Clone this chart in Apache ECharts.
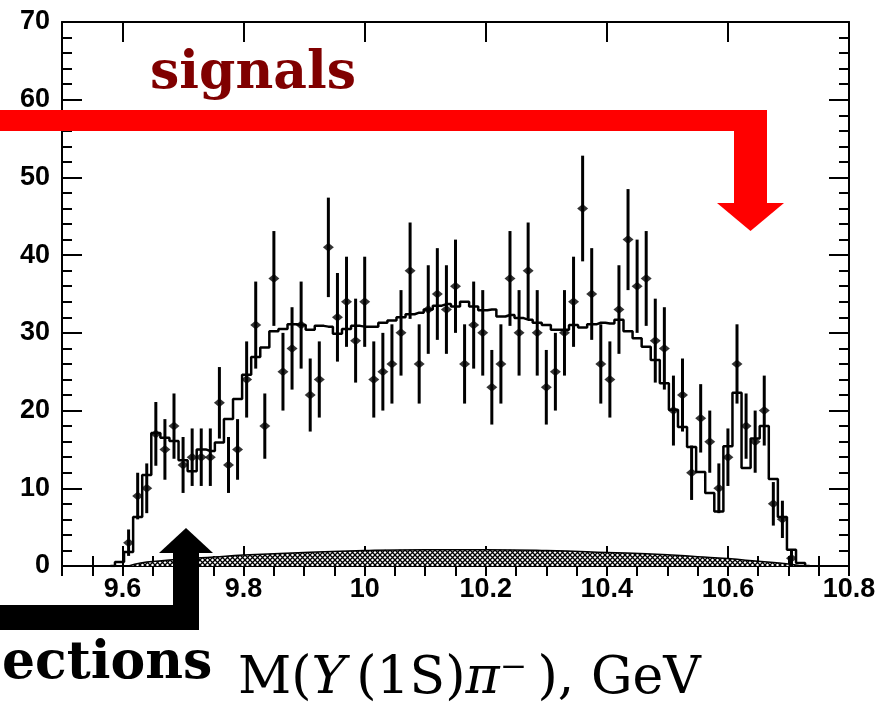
<!DOCTYPE html>
<html><head><meta charset="utf-8">
<script src="https://cdn.jsdelivr.net/npm/echarts@6/dist/echarts.min.js"></script>
<style>html,body{margin:0;padding:0;background:#fff}#c{width:883px;height:705px}</style>
</head><body><div id="c"></div>
<script>
// Bin centres, GeV
const massBins = [
  9.610, 9.625, 9.640, 9.655, 9.670, 9.685, 9.700, 9.715, 9.730, 9.745,
  9.760, 9.775, 9.790, 9.805, 9.820, 9.835, 9.850, 9.865, 9.880, 9.895,
  9.910, 9.925, 9.940, 9.955, 9.970, 9.985, 10.000, 10.015, 10.030, 10.045,
  10.060, 10.075, 10.090, 10.105, 10.120, 10.135, 10.150, 10.165, 10.180, 10.195,
  10.210, 10.225, 10.240, 10.255, 10.270, 10.285, 10.300, 10.315, 10.330, 10.345,
  10.360, 10.375, 10.390, 10.405, 10.420, 10.435, 10.450, 10.465, 10.480, 10.495,
  10.510, 10.525, 10.540, 10.555, 10.570, 10.585, 10.600, 10.615, 10.630, 10.645,
  10.660, 10.675, 10.690, 10.705
];
// Data points (events per bin)
const counts = [
  3, 9, 10, 17, 15, 18, 13, 14, 14, 14,
  21, 13, 15, 24, 31, 18, 37, 25, 28, 31,
  22, 24, 41, 32, 34, 29, 34, 24, 25, 26,
  30, 38, 26, 33, 35, 33, 36, 26, 31, 30,
  23, 26, 37, 30, 38, 30, 23, 25, 30, 34,
  46, 35, 26, 24, 33, 42, 36, 37, 29, 28,
  20, 22, 12, 19, 16, 10, 14, 26, 18, 16,
  20, 8, 6, 1
];
// Error bar half-lengths
const countErrors = [
  1.7, 3.0, 3.2, 4.1, 3.9, 4.2, 3.6, 3.7, 3.7, 3.7,
  4.6, 3.6, 3.9, 4.9, 5.6, 4.2, 6.1, 5.0, 5.3, 5.6,
  4.7, 4.9, 6.4, 5.7, 5.8, 5.4, 5.8, 4.9, 5.0, 5.1,
  5.5, 6.2, 5.1, 5.7, 5.9, 5.7, 6.0, 5.1, 5.6, 5.5,
  4.8, 5.1, 6.1, 5.5, 6.2, 5.5, 4.8, 5.0, 5.5, 5.8,
  6.8, 5.9, 5.1, 4.9, 5.7, 6.5, 6.0, 6.1, 5.4, 5.3,
  4.5, 4.7, 3.5, 4.4, 4.0, 3.2, 3.7, 5.1, 4.2, 4.0,
  4.5, 2.8, 2.4, 1.0
];
// Fit histogram (step line)
const fitMass = [
  9.580, 9.595,
  9.610, 9.625, 9.640, 9.655, 9.670, 9.685, 9.700, 9.715, 9.730, 9.745,
  9.760, 9.775, 9.790, 9.805, 9.820, 9.835, 9.850, 9.865, 9.880, 9.895,
  9.910, 9.925, 9.940, 9.955, 9.970, 9.985, 10.000, 10.015, 10.030, 10.045,
  10.060, 10.075, 10.090, 10.105, 10.120, 10.135, 10.150, 10.165, 10.180, 10.195,
  10.210, 10.225, 10.240, 10.255, 10.270, 10.285, 10.300, 10.315, 10.330, 10.345,
  10.360, 10.375, 10.390, 10.405, 10.420, 10.435, 10.450, 10.465, 10.480, 10.495,
  10.510, 10.525, 10.540, 10.555, 10.570, 10.585, 10.600, 10.615, 10.630, 10.645,
  10.660, 10.675, 10.690, 10.705,
  10.720, 10.735
];
const fitValues = [
  0, 0.5,
  1.8, 6.3, 11.7, 17.1, 16.5, 16.1, 13.6, 12.2, 15.0, 14.8,
  15.9, 18.9, 21.5, 24.6, 26.9, 28.1, 30.2, 30.5, 31.1, 31.0,
  30.4, 30.9, 30.8, 29.9, 30.5, 30.9, 30.8, 30.8, 31.3, 31.6,
  32.0, 32.4, 32.6, 33.0, 33.5, 33.7, 33.4, 34.0, 33.4, 32.9,
  33.0, 32.1, 32.3, 31.9, 31.7, 31.3, 31.0, 30.4, 30.4, 31.0,
  30.7, 31.1, 31.3, 31.2, 31.7, 30.2, 29.3, 28.2, 26.5, 23.5,
  20.1, 17.9, 15.3, 12.1, 9.4, 7.0, 15.4, 22.3, 12.6, 16.4,
  18.0, 11.2, 6.3, 2.1,
  0.4, 0
];
// Background (hatched)
const bgMass = [9.61, 9.63, 9.66, 9.70, 9.75, 9.80, 9.90, 10.00, 10.10, 10.20, 10.30, 10.40, 10.50, 10.55, 10.60, 10.65, 10.70, 10.72];
const bgValues = [0, 0.4, 0.65, 0.9, 1.15, 1.4, 1.75, 2.0, 2.1, 2.1, 2.0, 1.75, 1.45, 1.2, 0.95, 0.6, 0.25, 0];
// Axis
const xTickLabels = [9.6, 9.8, 10, 10.2, 10.4, 10.6, 10.8];
const xMin = 9.5, xMax = 10.8, yMin = 0, yMax = 70;

function hatchCanvas() {
  const n = 5;
  const c = document.createElement('canvas');
  c.width = n; c.height = n;
  const g = c.getContext('2d');
  g.fillStyle = '#fff'; g.fillRect(0, 0, n, n);
  g.strokeStyle = '#000'; g.lineWidth = 1.3;
  g.beginPath();
  g.moveTo(-1, -1); g.lineTo(n + 1, n + 1);
  g.moveTo(n + 1, -1); g.lineTo(-1, n + 1);
  g.stroke();
  return c;
}

const labelFont = {fontFamily: 'Liberation Sans', fontWeight: 'bold', fontSize: 27, color: '#000'};
const black = '#000';

function xMajor(position, showLabel) {
  return {
    type: 'value', position: position, min: xMin, max: xMax,
    axisLine: {show: true, onZero: false, lineStyle: {color: black, width: 2}},
    axisTick: {show: true, inside: true, length: 20, customValues: xTickLabels, lineStyle: {color: black, width: 2}},
    axisLabel: Object.assign({show: showLabel, customValues: xTickLabels, margin: 10,
      formatter: v => String(+(+v).toFixed(1))}, labelFont),
    splitLine: {show: false}
  };
}
function xMinor(position) {
  return {
    type: 'value', position: position, min: xMin, max: xMax, interval: 0.05,
    axisLine: {show: false},
    axisTick: {show: true, inside: true, length: 10, lineStyle: {color: black, width: 2}},
    axisLabel: {show: false},
    splitLine: {show: false}
  };
}
function yAx(position, showLabel) {
  return {
    type: 'value', position: position, min: yMin, max: yMax, interval: 10,
    axisLine: {show: true, onZero: false, lineStyle: {color: black, width: 2}},
    axisTick: {show: true, inside: true, length: 20, lineStyle: {color: black, width: 2}},
    minorTick: {show: true, splitNumber: 5, length: 10, lineStyle: {color: black, width: 2}},
    axisLabel: Object.assign({show: showLabel, margin: 12}, labelFont),
    splitLine: {show: false}
  };
}

const chart = echarts.init(document.getElementById('c'), null, {renderer: 'canvas'});
chart.setOption({
  animation: false,
  backgroundColor: '#fff',
  grid: {left: 62, right: 34, top: 22, bottom: 139, containLabel: false},
  xAxis: [xMajor('bottom', true), xMinor('bottom'), xMajor('top', false), xMinor('top')],
  yAxis: [yAx('left', true), yAx('right', false)],
  series: [
    {
      type: 'line', xAxisIndex: 0, yAxisIndex: 0, smooth: true, symbol: 'none', z: 1,
      data: bgMass.map((m, i) => [m, bgValues[i]]),
      lineStyle: {color: black, width: 1.5},
      areaStyle: {color: {image: hatchCanvas(), repeat: 'repeat'}, opacity: 1}
    },
    {
      type: 'line', xAxisIndex: 0, yAxisIndex: 0, step: 'middle', symbol: 'none', z: 3,
      data: fitMass.map((m, i) => [m, fitValues[i]]),
      lineStyle: {color: black, width: 2.5}
    },
    {
      type: 'custom', xAxisIndex: 0, yAxisIndex: 0, z: 4,
      data: massBins.map((m, i) => [m, counts[i], countErrors[i]]),
      renderItem: function (params, api) {
        const x = api.value(0), v = api.value(1), e = api.value(2);
        const p1 = api.coord([x, Math.max(0, v - e)]);
        const p2 = api.coord([x, v + e]);
        return {type: 'line', shape: {x1: p1[0], y1: p1[1], x2: p2[0], y2: p2[1]},
          style: {stroke: black, lineWidth: 3}};
      }
    },
    {
      type: 'scatter', xAxisIndex: 0, yAxisIndex: 0, z: 5,
      data: massBins.map((m, i) => [m, counts[i]]),
      symbol: 'diamond', symbolSize: [11, 9],
      itemStyle: {color: black}
    }
  ],
  graphic: [
    {type: 'rect', z: 100, shape: {x: 0, y: 110, width: 767, height: 21}, style: {fill: '#ff0000'}},
    {type: 'rect', z: 100, shape: {x: 734, y: 110, width: 33, height: 94}, style: {fill: '#ff0000'}},
    {type: 'polygon', z: 100, shape: {points: [[717, 203], [784, 203], [750.5, 231]]}, style: {fill: '#ff0000'}},
    {type: 'text', z: 100, x: 150, y: 74, style: {text: 'signals', fill: '#800000',
      font: 'bold 52px "DejaVu Serif"', verticalAlign: 'middle', align: 'left'}},
    {type: 'rect', z: 100, shape: {x: 0, y: 605, width: 199, height: 25}, style: {fill: '#000'}},
    {type: 'rect', z: 100, shape: {x: 173, y: 552, width: 26, height: 78}, style: {fill: '#000'}},
    {type: 'polygon', z: 100, shape: {points: [[159, 553], [213, 553], [186, 528]]}, style: {fill: '#000'}},
    {type: 'text', z: 100, x: 2, y: 664, style: {text: 'ections', fill: '#000',
      font: 'bold 52px "DejaVu Serif"', verticalAlign: 'middle', align: 'left'}},
    {type: 'text', z: 100, x: 238, y: 679, style: {
      text: '{n|M(}{i|Υ}{n|\u2009(1S)}{i|π}{n|⁻\u2009), GeV}',
      fill: '#000', verticalAlign: 'middle', align: 'left',
      rich: {
        n: {fontFamily: 'DejaVu Serif', fontSize: 52, fill: '#000'},
        i: {fontFamily: 'DejaVu Serif', fontStyle: 'italic', fontSize: 52, fill: '#000'}
      }}}
  ]
});
</script>
</body></html>
